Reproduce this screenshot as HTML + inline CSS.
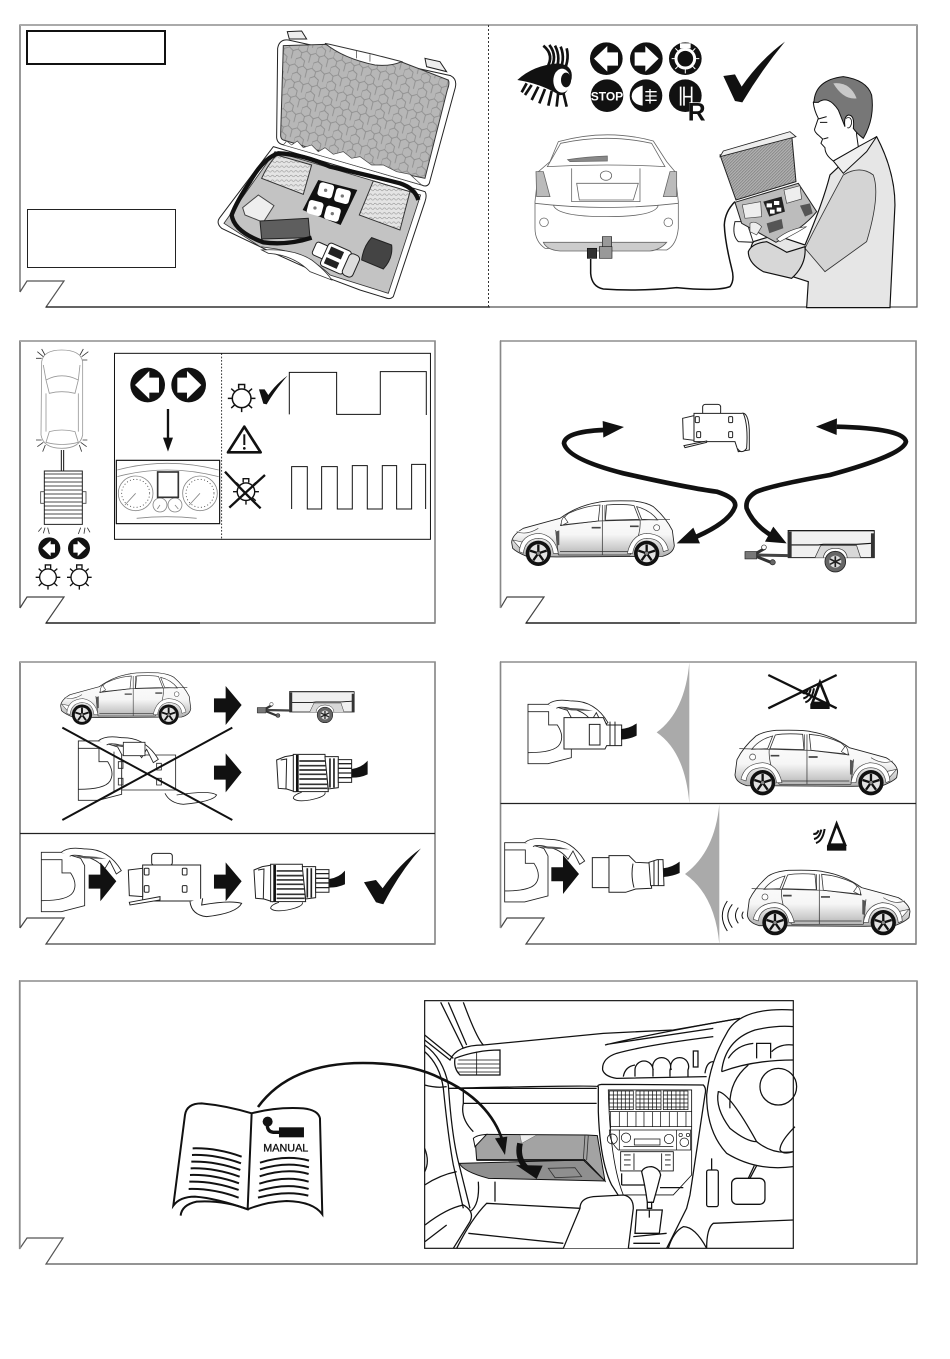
<!DOCTYPE html>
<html><head><meta charset="utf-8"><style>
html,body{margin:0;padding:0;background:#fff;width:950px;height:1359px;overflow:hidden}
svg{display:block;font-family:"Liberation Sans",sans-serif}
</style></head><body>
<svg width="950" height="1359" viewBox="0 0 950 1359" xmlns="http://www.w3.org/2000/svg">
<defs>
<linearGradient id="cg" x1="0" y1="0" x2="0" y2="1"><stop offset="0" stop-color="#fff"/><stop offset=".6" stop-color="#f6f6f6"/><stop offset="1" stop-color="#b0b0b0"/></linearGradient>
<pattern id="foam" width="54" height="46" patternUnits="userSpaceOnUse" patternTransform="rotate(14)">
<rect width="54" height="46" fill="#b7b7b7"/><path d="M0,12 L13,4 L27,12 L27,28 L13,36 L0,28Z M27,28 L40,36 L54,28 M40,36 L40,46 M13,36 L13,46 M13,0 V4 M40,0 V14" fill="none" stroke="#8a8a8a" stroke-width="2.4"/>
</pattern>
<pattern id="foam2" width="9" height="9" patternUnits="userSpaceOnUse"><rect width="9" height="9" fill="#b0b0b0"/><path d="M0,4 L4,0 M4,9 L9,4" stroke="#777" stroke-width="2"/></pattern>
<pattern id="pad" width="14" height="14" patternUnits="userSpaceOnUse"><rect width="14" height="14" fill="#e4e4e4"/><path d="M0,7 Q4,2 7,7 T14,7" fill="none" stroke="#888" stroke-width="1.6"/></pattern>

<g id="wheel"><circle r="38" fill="#111"/><circle r="27" fill="#e2e2e2"/><g stroke="#111" stroke-width="7"><path d="M0,0 V-26"/><path d="M0,0 L25,-8"/><path d="M0,0 L15,21"/><path d="M0,0 L-15,21"/><path d="M0,0 L-25,-8"/></g><circle r="6" fill="#888" stroke="#111" stroke-width="2"/></g>

<g id="car">
<path d="M65,622 Q66,600 100,580 Q165,562 210,550 Q262,512 325,502 Q345,496 430,498 Q470,502 490,515 Q528,548 547,586 L553,632 Q550,655 518,664 L200,666 L110,664 Q80,652 68,640Z" fill="url(#cg)" stroke="#222" stroke-width="2.6"/>
<path d="M212,570 Q220,545 236,535 Q280,514 330,510 L325,558Z M350,510 Q400,506 432,512 L448,553 L346,556Z M440,515 Q480,525 503,555 L455,553Z" fill="#fff" stroke="#333" stroke-width="2.4"/>
<path d="M210,572 L325,558 L540,553 M337,510 V660 M345,510 V556 M450,553 Q455,600 420,660 M197,585 L205,660 M205,660 H420 M210,650 H415" fill="none" stroke="#333" stroke-width="2.2"/>
<path d="M197,590 L208,586 L208,630 L200,632Z" fill="#555"/>
<path d="M305,578 H332 M420,574 H446" stroke="#444" stroke-width="5"/>
<circle cx="500" cy="578" r="9" fill="#fff" stroke="#444" stroke-width="2"/>
<path d="M222,545 Q212,555 214,572 L234,562 Z" fill="#fff" stroke="#333" stroke-width="2"/>
<path d="M68,615 L100,622 L92,642 Z M80,590 Q110,602 145,580" fill="#fff" stroke="#444" stroke-width="2"/>
<path d="M88,650 Q92,598 148,595 Q195,602 205,655 L190,655 Q185,610 145,610 Q105,612 100,655Z" fill="#fff" stroke="#444" stroke-width="2"/>
<path d="M412,655 Q425,598 470,595 Q525,598 535,645 L520,650 Q515,610 470,610 Q435,612 428,655Z" fill="#fff" stroke="#444" stroke-width="2"/>
<use href="#wheel" x="145" y="655"/><use href="#wheel" x="470" y="655"/>
</g>

<g id="trailer">
<path d="M895,587 H1153 V668 H895Z" fill="#f0f0f0" stroke="#222" stroke-width="3"/>
<path d="M893,587 H1153 M895,630 H985 L1000,628 H1100 L1145,625" fill="none" stroke="#111" stroke-width="3.5"/>
<path d="M905,668 H975 L992,632 H1100 L1112,668 H1150" fill="#d8d8d8" stroke="#333" stroke-width="2"/>
<rect x="893" y="590" width="12" height="78" fill="#333"/><rect x="1143" y="595" width="11" height="73" fill="#333"/>
<path d="M895,662 L800,660 H765" fill="none" stroke="#444" stroke-width="9"/>
<path d="M790,660 L825,640 M800,665 L850,685" stroke="#333" stroke-width="9" fill="none"/>
<path d="M765,650 H800 V672 H765Z" fill="#777" stroke="#222" stroke-width="2"/>
<circle cx="822" cy="637" r="7" fill="#fff" stroke="#222" stroke-width="2"/><circle cx="848" cy="682" r="8" fill="#666" stroke="#222" stroke-width="2"/>
<path d="M1000,668 Q1005,640 1036,640 Q1068,640 1072,668" fill="#fff" stroke="#333" stroke-width="2"/>
<circle cx="1036" cy="680" r="31" fill="#666" stroke="#222" stroke-width="2.5"/><circle cx="1036" cy="680" r="18" fill="#ddd"/><path d="M1036,664 V696 M1020,672 L1052,688 M1020,688 L1052,672" stroke="#222" stroke-width="5"/>
</g>

<g id="bulb" fill="none" stroke="#111" stroke-width="4">
<circle r="25"/><path d="M-8,-26 V-37 H8 V-26 M0,25 V37 M25,0 H37 M-25,0 H-37 M19,-18 L28,-26 M-19,-18 L-28,-26 M19,18 L28,26 M-19,18 L-28,26"/>
</g>

<path id="bigarrow" d="M0,37 H35 V0 L83,57 L35,117 V79 H0Z" fill="#111"/>

<g id="plug13">
<path d="M800,315 L825,305 L855,300 V410 L830,402 L805,400Z" fill="#fff" stroke="#222" stroke-width="3"/>
<path d="M812,315 L830,312 L828,402" fill="none" stroke="#222" stroke-width="3"/>
<path d="M850,298 H945 L955,410 H850Z" fill="#fff" stroke="#222" stroke-width="3"/>
<path d="M862,300 V410" stroke="#111" stroke-width="8"/>
<path d="M868,318 H945 M868,332 H948 M868,345 H948 M868,358 H948 M868,372 H950 M868,388 H952 M868,400 H952" stroke="#333" stroke-width="5"/>
<path d="M945,305 H985 V398 L955,402Z" fill="#fff" stroke="#222" stroke-width="3"/>
<path d="M960,310 V398 M972,310 V398" stroke="#222" stroke-width="5"/>
<path d="M985,314 H1025 V382 H985Z" fill="#fff" stroke="#222" stroke-width="3"/>
<path d="M985,326 H1025 M985,340 H1025 M985,354 H1025 M985,368 H1025" stroke="#222" stroke-width="4"/>
<path d="M1026,342 Q1055,338 1073,317 V358 Q1052,368 1026,368Z" fill="#111"/>
<path d="M875,412 Q850,420 850,430 Q860,442 900,435 Q950,425 945,412" fill="#fff" stroke="#222" stroke-width="2.5"/>
</g>

<g id="socketL">
<path d="M0,0 H60 L118,18 L130,40 V160 L60,178 H0Z" fill="#fff" stroke="#222" stroke-width="2.6"/>
<path d="M0,22 H45 H62 V62 L88,62 Q110,95 95,120 Q80,145 0,145" fill="none" stroke="#222" stroke-width="2.6"/>
<path d="M60,0 Q80,-18 130,-10 Q200,-12 240,55 L225,65 L205,25 L190,50 Q170,20 125,12 Q95,5 85,12" fill="#fff" stroke="#222" stroke-width="2.6"/>
<path d="M100,12 Q150,8 195,20 L130,18Z" fill="#555"/>
</g>

<g id="plugSmall">
<path d="M0,6 H50 V96 H0Z" fill="#fff" stroke="#222" stroke-width="3"/>
<path d="M50,0 H110 L130,20 L172,22 L178,98 L130,100 L100,110 H50Z" fill="#fff" stroke="#222" stroke-width="3"/>
<path d="M122,24 Q115,60 125,96 M170,20 L195,12 H212 L215,90 H175Z M185,15 V90 M198,12 V90" fill="#fff" stroke="#222" stroke-width="3"/>
<path d="M213,38 Q240,35 262,18 V52 Q240,62 213,64Z" fill="#111"/>
</g>

<g id="tri"><path d="M43,4 L68,66 H20Z" fill="none" stroke="#111" stroke-width="8"/><rect x="14" y="68" width="58" height="16" fill="#111"/></g>
<g id="waves" fill="none" stroke="#111" stroke-width="6"><path d="M0,24 Q10,28 16,14 M2,40 Q18,38 24,12 M8,52 Q28,46 34,10"/></g>
</defs>

<!-- frames -->
<g fill="none" stroke-linejoin="miter">
<path d="M20,292 V25 H917 V307 H46 L64,281 H27 L20,292" stroke="#555" stroke-width="1.2"/>
<path d="M20,25 H917" stroke="#aaa" stroke-width="2"/>
<path d="M46,307 H490" stroke="#222" stroke-width="1.2"/>
<path d="M488.5,25 V307" stroke="#333" stroke-width="1" stroke-dasharray="2 2"/>

<path d="M20,608 V341 H435 V623 H46 L64,597 H27 L20,608" stroke="#444" stroke-width="1.2"/><path d="M20,341 H435" stroke="#aaa" stroke-width="2"/><path d="M435,341 V623" stroke="#888" stroke-width="1.5"/>
<path d="M46,623 H200" stroke="#111" stroke-width="1.2"/>
<path d="M500.5,608 V341 H916 V623 H526 L544,597 H507 L500.5,608" stroke="#444" stroke-width="1.2"/><path d="M500.5,341 H916" stroke="#aaa" stroke-width="2"/><path d="M916,341 V623 M500.5,341 V608" stroke="#888" stroke-width="1.5"/>
<path d="M526,623 H680" stroke="#111" stroke-width="1.2"/>

<path d="M20,928 V662 H435 V944 H46 L64,918 H27 L20,928" stroke="#444" stroke-width="1.2"/><path d="M20,662 H435" stroke="#aaa" stroke-width="2"/><path d="M435,662 V944" stroke="#888" stroke-width="1.5"/>
<path d="M20,833.5 H435" stroke="#222" stroke-width="1.2"/>
<path d="M500.5,928 V662 H916 V944 H526 L544,918 H507 L500.5,928" stroke="#444" stroke-width="1.2"/><path d="M500.5,662 H916" stroke="#aaa" stroke-width="2"/><path d="M916,662 V944 M500.5,662 V928" stroke="#888" stroke-width="1.5"/>
<path d="M500.5,803.5 H916" stroke="#222" stroke-width="1.2"/>

<path d="M19.5,1249 V981 H917 V1264 H46 L63,1238 H27 L19.5,1249" stroke="#555" stroke-width="1.2"/><path d="M20,981 H917 M20,981 V1249" stroke="#999" stroke-width="1.5"/>
<rect x="27" y="31" width="138" height="33" stroke="#111" stroke-width="2"/>
<rect x="27.5" y="209.5" width="148" height="58" stroke="#222" stroke-width="1"/>
</g>

<!-- P1 case -->
<g transform="translate(10,15) scale(.3333)">
<path d="M803,100 Q808,72 835,75 L1322,182 Q1342,192 1336,218 L1258,505 Q1250,518 1235,510 L825,390 Q802,388 800,368Z" fill="#fff" stroke="#222" stroke-width="3"/>
<path d="M820,92 L945,88 L1172,140 L1315,195 Q1320,205 1312,225 L1245,490 L1100,460 L820,375 Q812,372 812,360Z" fill="url(#foam)" stroke="#333" stroke-width="3"/>
<path d="M945,85 Q1000,130 1095,150 Q1140,155 1175,140 L1090,118 L960,88Z" fill="#fff" stroke="#333" stroke-width="3"/>
<path d="M1040,108 V130 M1080,118 V140" stroke="#333" stroke-width="2"/>
<path d="M832,50 L875,48 L890,72 L838,72Z M1245,130 L1290,140 L1310,170 L1250,155Z" fill="#eee" stroke="#222" stroke-width="3"/>
<path d="M830,378 L845,390 L862,378 L880,398 L905,390 L925,410 L945,398 L970,418 L1000,410 L1025,430 L1050,425 L1085,450 L1120,450 L1160,470 L1200,478 L1235,510 L820,390Z" fill="#fff" stroke="#444" stroke-width="2"/>
<path d="M790,395 L1245,530 Q1252,540 1245,560 L1150,845 Q1140,855 1125,848 L1050,825 L970,795 L760,700 L635,640 Q618,625 628,610 Z" fill="#fff" stroke="#222" stroke-width="3"/>
<path d="M795,410 L1232,540 L1135,835 L960,780 Q900,720 800,702 L750,695 L642,625Z" fill="#c3c3c3" stroke="#333" stroke-width="2.5"/>
<path d="M755,705 Q850,700 905,735 Q950,770 965,795 L900,770 Q850,720 775,715Z" fill="#fff" stroke="#333" stroke-width="2.5"/>
<path d="M800,420 L905,450 L880,538 L755,490 Q770,455 800,420Z" fill="url(#pad)" stroke="#333" stroke-width="3"/>
<path d="M1090,498 L1200,530 L1170,645 L1048,600Z" fill="url(#pad)" stroke="#333" stroke-width="3"/>
<path d="M925,495 L1042,525 L992,630 L878,585Z" fill="#111"/>
<g fill="#fff"><rect x="925" y="505" width="45" height="42" rx="9" transform="rotate(15 947 526)"/><rect x="975" y="522" width="45" height="42" rx="9" transform="rotate(15 997 543)"/><rect x="893" y="558" width="45" height="42" rx="9" transform="rotate(15 915 579)"/><rect x="945" y="575" width="45" height="42" rx="9" transform="rotate(15 967 596)"/></g>
<circle cx="947" cy="526" r="5" fill="#777"/><circle cx="997" cy="543" r="5" fill="#777"/><circle cx="915" cy="579" r="5" fill="#777"/><circle cx="967" cy="596" r="5" fill="#777"/>
<path d="M698,578 L745,540 L792,572 L760,622 L705,600Z" fill="#eee" stroke="#444" stroke-width="3"/>
<path d="M750,618 L895,610 L900,668 L755,672Z" fill="#5e5e5e" stroke="#222" stroke-width="3"/>
<path d="M1225,555 Q1215,520 1170,505 Q1080,482 960,455 Q880,418 805,415 Q760,430 720,500 Q680,560 665,600 Q672,650 760,682 Q830,692 905,668" fill="none" stroke="#111" stroke-width="13"/>
<g transform="rotate(24 970 730)"><rect x="905" y="703" width="40" height="42" rx="8" fill="#fff" stroke="#222" stroke-width="3"/><rect x="940" y="690" width="75" height="75" rx="10" fill="#fff" stroke="#222" stroke-width="3"/><rect x="950" y="700" width="42" height="24" fill="#222"/><rect x="950" y="735" width="42" height="20" fill="#222"/><rect x="1010" y="693" width="34" height="70" rx="12" fill="#ddd" stroke="#222" stroke-width="3"/></g>
<path d="M1085,668 L1145,690 Q1150,730 1120,762 L1055,735 Q1060,695 1085,668Z" fill="#444" stroke="#222" stroke-width="3"/>
</g>

<!-- P2 -->
<g transform="translate(490,15) scale(.3333)">
<g fill="none" stroke="#111" stroke-width="8">
<path d="M160,92 Q195,120 170,160 M178,90 Q205,125 180,165 M195,92 Q215,130 195,170 M212,95 Q228,135 205,175 M230,100 Q240,140 215,180"/>
<path d="M110,205 L95,232 M125,210 L105,240 M145,215 L125,255 M165,222 L148,265 M185,228 L175,272 M205,230 L200,275 M218,225 L230,275"/>
</g>
<path d="M82,195 Q130,150 205,145 Q250,150 245,190 Q232,245 208,240 Q150,205 82,195Z" fill="#111"/>
<ellipse cx="216" cy="197" rx="26" ry="36" fill="#fff"/><ellipse cx="228" cy="195" rx="15" ry="22" fill="#111"/>
<g fill="#111"><circle cx="349" cy="131" r="49"/><circle cx="469" cy="131" r="49"/><circle cx="586" cy="131" r="49"/><circle cx="351" cy="242" r="49"/><circle cx="468" cy="242" r="49"/><circle cx="586" cy="242" r="49"/></g>
<path d="M312,131 L352,93 V112 H384 V152 H352 V170Z" fill="#fff"/>
<path d="M506,131 L466,93 V112 H434 V152 H466 V170Z" fill="#fff"/>
<circle cx="586" cy="131" r="28" fill="none" stroke="#fff" stroke-width="9"/>
<path d="M586,88 V103 M586,160 V175 M545,131 H558 M614,131 H628 M556,100 L564,108 M616,100 L608,108 M556,162 L564,154 M616,162 L608,154" stroke="#fff" stroke-width="3"/>
<path d="M570,85 H602 V100 H570Z" fill="#fff"/>
<text x="351" y="256" text-anchor="middle" font-size="36" font-weight="700" fill="#fff" font-family="Liberation Sans,sans-serif">STOP</text>
<path d="M458,212 Q425,220 425,245 Q428,268 458,272Z" fill="#fff"/>
<path d="M480,222 V266 M466,230 H500 M466,243 H500 M466,256 H500" stroke="#fff" stroke-width="4"/>
<path d="M572,215 V272 M582,215 V272 M582,245 H605 V215 M605,215 V272" fill="none" stroke="#fff" stroke-width="5"/>
<rect x="598" y="262" width="44" height="56" fill="#fff"/>
<text x="620" y="316" text-anchor="middle" font-size="74" font-weight="700" fill="#111">R</text>
<path d="M700,183 L735,178 L755,215 Q810,135 885,80 Q815,165 757,262 L735,258Z" fill="#111"/>

<!-- rear car -->
<g fill="#fff" stroke="#666" stroke-width="2.4">
<path d="M165,700 Q135,680 135,640 V560 L145,470 L180,440 L205,380 Q350,340 490,378 L530,440 L555,470 L565,560 V640 Q560,690 530,705Z"/>
<path d="M172,455 L212,385 Q350,355 485,385 L525,455 Q350,445 172,455Z"/>
<path d="M245,460 V560 H450 V460 M260,505 H445 L430,555 H268Z M135,565 Q350,590 565,565 M190,570 Q200,605 350,605 Q500,605 505,570"/>
<path d="M233,434 Q290,425 352,423 V438 L240,440Z" fill="#888"/>
<path d="M138,470 L160,470 L180,545 L140,545Z M560,470 L540,470 L520,545 L560,545Z" fill="#bbb"/>
<circle cx="162" cy="622" r="13"/><circle cx="535" cy="622" r="13"/>
<ellipse cx="348" cy="482" rx="17" ry="14"/>
<path d="M160,682 H530 Q510,705 480,708 H210 Q170,705 160,682Z" fill="#ccc"/>
</g>
<rect x="337" y="665" width="28" height="32" fill="#999" stroke="#222" stroke-width="2"/>
<rect x="328" y="695" width="38" height="35" fill="#999" stroke="#222" stroke-width="2"/>
<rect x="292" y="700" width="28" height="30" fill="#333" stroke="#111" stroke-width="2"/>
<path d="M302,732 V775 Q305,815 340,822 Q440,830 560,818 Q680,830 720,815 Q735,795 725,760 Q705,680 703,630 Q705,590 735,560" fill="none" stroke="#111" stroke-width="4.5"/>

<!-- man -->
<path d="M950,878 L955,800 L800,750 Q770,715 790,680 L855,660 L945,690 Q1000,560 1020,480 L1105,400 L1160,365 Q1215,470 1215,570 L1200,878Z" fill="#e6e6e6" stroke="#111" stroke-width="3.5"/>
<path d="M1060,480 Q1110,450 1150,480 Q1172,540 1130,680 L1005,770 L945,700 Q990,610 1060,480Z" fill="#d4d4d4" stroke="#333" stroke-width="2.5"/>
<path d="M1030,438 L1105,395 L1160,365 L1130,410 L1060,475Z" fill="#efefef" stroke="#111" stroke-width="3"/>
<path d="M970,262 Q990,230 1060,260 Q1100,300 1100,360 L1105,395 L1030,438 Q1005,420 1005,398 L993,385 L998,372 L987,362 Q972,350 974,342 L985,310 Q972,285 970,262Z" fill="#fff" stroke="#111" stroke-width="3"/>
<path d="M972,262 Q975,195 1060,185 Q1130,195 1145,240 Q1155,310 1120,370 Q1100,355 1090,340 Q1095,300 1075,300 Q1060,305 1065,335 L1045,285 Q1015,240 985,262Z" fill="#777" stroke="#111" stroke-width="3"/>
<path d="M1030,205 Q1080,200 1100,250 Q1060,255 1030,205Z" fill="#c9c9c9"/>
<path d="M985,312 L1010,305 M990,322 L1012,322 M1000,372 L1015,368" stroke="#111" stroke-width="3" fill="none"/>
<path d="M1068,310 Q1085,302 1085,325 Q1080,342 1072,338" fill="#fff" stroke="#111" stroke-width="2.5"/>
<path d="M735,620 Q725,660 745,680 L790,682 L770,620Z" fill="#fff" stroke="#222" stroke-width="3"/>
<path d="M690,420 L905,358 L918,500 L738,555Z" fill="url(#foam2)" stroke="#222" stroke-width="3"/>
<path d="M700,408 L900,350 L918,365 L690,425Z" fill="#eee" stroke="#222" stroke-width="2.5"/>
<path d="M735,562 L925,505 L980,590 Q940,640 858,682 L755,625Z" fill="#bcbcbc" stroke="#222" stroke-width="3"/>
<path d="M757,570 L812,560 L815,605 L765,610Z M882,525 L930,512 L935,552 L890,565Z M780,625 Q795,615 815,635 L800,660 L780,650Z" fill="#eee" stroke="#444" stroke-width="2"/>
<path d="M820,560 L875,545 L885,590 L838,605Z" fill="#222"/>
<path d="M830,565 h16 v12 h-16z M852,558 h16 v12 h-16z M840,584 h14 v12 h-14z M860,578 h14 v12 h-14z" fill="#fff"/>
<path d="M830,625 L875,612 L880,640 L838,655Z" fill="#555"/>
<path d="M930,572 L960,565 L968,595 L945,605Z" fill="#555"/>
<path d="M860,672 Q900,640 950,635 L925,650 L870,680Z" fill="#fff" stroke="#333" stroke-width="2"/>
<path d="M775,710 Q785,685 830,680 Q870,700 890,712 L945,695 Q950,750 905,790 L820,770 Q775,745 775,710Z" fill="#d7d7d7" stroke="#111" stroke-width="3.5"/>
</g>

<!-- P3 -->
<g transform="translate(10,335) scale(.3333)">
<g fill="#fff" stroke="#999" stroke-width="2.5">
<path d="M95,80 Q100,45 155,45 Q212,45 218,80 V300 Q210,340 155,340 Q100,340 93,300Z"/>
<path d="M108,135 Q155,110 205,135 L195,175 Q155,165 118,175Z M118,290 Q155,280 195,290 L205,322 Q155,335 108,322Z M108,175 V290 M205,175 V290 M100,90 L108,135 M210,90 L205,135"/>
</g>
<path d="M82,50 L100,65 M95,42 L105,60 M235,50 L215,65 M220,42 L210,60 M78,70 H95 M232,75 H218 M78,315 H95 M82,335 L100,322 M98,350 L106,330 M232,315 H218 M230,335 L212,322 M215,350 L208,330" stroke="#333" stroke-width="2.5"/>
<path d="M154,345 V408 M161,345 V408" stroke="#111" stroke-width="3"/>
<path d="M103,408 H217 V568 H103Z" fill="#fff" stroke="#222" stroke-width="3"/>
<path d="M103,417 H217 M103,429 H217 M103,441 H217 M103,453 H217 M103,465 H217 M103,477 H217 M103,489 H217 M103,501 H217 M103,513 H217 M103,525 H217 M103,537 H217 M103,549 H217" stroke="#111" stroke-width="2.4"/>
<path d="M103,470 H92 V505 H103 M217,470 H228 V505 H217" fill="none" stroke="#444" stroke-width="2.5"/>
<path d="M85,590 L95,578 M100,595 L105,578 M118,597 L113,578 M205,597 L212,578 M222,596 L225,578 M240,592 L232,578" stroke="#333" stroke-width="2.5"/>
<g fill="#111"><circle cx="118" cy="640" r="33"/><circle cx="207" cy="640" r="33"/><circle cx="413" cy="150" r="52"/><circle cx="536" cy="150" r="52"/></g>
<path d="M97,640 L122,617 V628 H135 V653 H122 V664Z" fill="#fff"/>
<path d="M228,640 L203,617 V628 H190 V653 H203 V664Z" fill="#fff"/>
<path d="M375,150 L418,108 V128 H447 V173 H418 V192Z" fill="#fff"/>
<path d="M574,150 L531,108 V128 H502 V173 H531 V192Z" fill="#fff"/>
<use href="#bulb" x="114" y="727"/><use href="#bulb" x="208" y="727"/>
<rect x="313.500" y="55" width="948" height="558" fill="none" stroke="#111" stroke-width="3"/>
<path d="M635,55 V613" stroke="#111" stroke-width="2.5" stroke-dasharray="5 5"/>
<path d="M474,222 V310" stroke="#111" stroke-width="7"/><path d="M459,308 H489 L474,350Z" fill="#111"/>
<rect x="319" y="376" width="310" height="190" fill="#fff" stroke="#111" stroke-width="3.5"/>
<g fill="none" stroke="#888" stroke-width="2.5">
<path d="M322,405 Q470,365 626,405 M322,425 Q470,385 626,425 M380,550 Q470,540 560,550"/>
<circle cx="377" cy="475" r="52"/><circle cx="570" cy="475" r="52"/><circle cx="450" cy="510" r="21"/><circle cx="495" cy="510" r="21"/>
<circle cx="377" cy="475" r="42" stroke-dasharray="3 7" stroke="#444"/><circle cx="570" cy="475" r="42" stroke-dasharray="3 7" stroke="#444"/>
<path d="M377,475 L345,510 M570,475 L538,510 M450,510 L442,522 M495,510 L505,522"/>
</g>
<rect x="443" y="411" width="62" height="76" fill="#fff" stroke="#333" stroke-width="5"/>
<use href="#bulb" transform="translate(695,190) scale(1.12)"/>
<path d="M747,163 L764,163 L775,180 Q800,145 833,122 Q795,165 770,208 L760,206Z" fill="#111"/>
<path d="M838,238 V112 H980 V238 H1111 V110 H1249 V240 M845,522 V395 H892 V522 H935 V395 H982 V522 H1027 V392 H1072 V522 H1117 V392 H1160 V522 H1205 V388 H1247 V522" fill="none" stroke="#111" stroke-width="3"/>
<path d="M703,275 L752,352 H654Z" fill="#fff" stroke="#111" stroke-width="8" stroke-linejoin="round"/>
<path d="M703,298 V330" stroke="#111" stroke-width="6"/><circle cx="703" cy="340" r="4" fill="#111"/>
<use href="#bulb" transform="translate(708,470) scale(1.05)"/>
<path d="M645,410 Q700,470 752,520 M658,518 Q710,470 765,420" fill="none" stroke="#111" stroke-width="7"/>
</g>

<!-- P4 -->
<g transform="translate(490,335) scale(.3333)">
<use href="#car"/>
<use href="#trailer"/>
<g fill="#fff" stroke="#222" stroke-width="3">
<rect x="638" y="208" width="54" height="32" rx="8"/>
<path d="M612,235 H755 Q775,230 778,285 V345 L745,350 L735,320 H612 Z"/>
<path d="M578,250 L612,242 V316 L580,312Z"/>
<rect x="616" y="245" width="12" height="18" rx="3"/><rect x="716" y="245" width="12" height="18" rx="3"/><rect x="620" y="290" width="12" height="18" rx="3"/><rect x="716" y="290" width="12" height="18" rx="3"/>
<path d="M582,332 L650,318 V322 L585,338Z M760,235 Q775,270 770,340 Q755,360 742,340"/>
</g>
<path d="M340,285 Q225,290 222,325 Q232,372 400,415 Q600,460 680,470 Q742,490 735,515 Q720,560 620,605" fill="none" stroke="#111" stroke-width="14"/>
<path d="M338,258 L402,276 L340,308Z M560,625 L610,578 L630,625Z" fill="#111"/>
<path d="M1040,275 Q1240,280 1248,320 Q1240,360 1020,420 Q850,450 800,470 Q765,490 770,520 Q790,570 850,605" fill="none" stroke="#111" stroke-width="14"/>
<path d="M978,275 L1041,250 L1040,300Z M890,625 L850,575 L825,620Z" fill="#111"/>
</g>

<!-- P5 -->
<g transform="translate(10,655) scale(.3333)">
<use href="#car" transform="translate(100,-345) scale(.8)"/>
<use href="#trailer" transform="translate(168,-330) scale(.75)"/>
<use href="#bigarrow" x="612" y="93"/><use href="#bigarrow" x="612" y="295"/>
<use href="#plug13"/>
<use href="#plug13" x="-68" y="330"/>
<path d="M335,300 H497 V405 H335Z" fill="#fff" stroke="#222" stroke-width="2.5"/>
<use href="#socketL" transform="translate(205,258)"/>
<path d="M312,290 V410 M325,320 h14 v20 h-14z M325,370 h14 v20 h-14z M440,325 h14 v20 h-14z M440,370 h14 v20 h-14z" fill="none" stroke="#222" stroke-width="2.5"/>
<path d="M340,262 h65 v40 h-65z" fill="#fff" stroke="#222" stroke-width="2.5"/>
<path d="M465,415 Q480,445 520,448 Q610,440 620,420 Q600,405 500,420" fill="#fff" stroke="#222" stroke-width="2.5"/>
<path d="M157,218 L667,495 M157,495 L667,218" stroke="#111" stroke-width="6"/>
<use href="#socketL" transform="translate(94,592)"/>
<use href="#bigarrow" x="236" y="622"/>
<use href="#bigarrow" x="612" y="622"/>
<g fill="#fff" stroke="#222" stroke-width="3">
<rect x="425" y="595" width="62" height="36" rx="8"/>
<path d="M398,630 H572 V740 L545,738 H398Z"/><path d="M355,645 L398,640 V725 L358,722Z"/>
<rect x="403" y="640" width="14" height="20" rx="3"/><rect x="517" y="640" width="14" height="20" rx="3"/><rect x="403" y="692" width="14" height="20" rx="3"/><rect x="517" y="692" width="14" height="20" rx="3"/>
<path d="M358,742 L450,725 V735 L360,750Z M540,740 Q545,780 590,785 Q680,775 695,745 Q660,735 575,750 L578,730"/>
</g>
<path d="M1062,682 L1098,675 L1118,700 Q1170,625 1233,580 Q1170,650 1120,748 L1098,742Z" fill="#111"/>
</g>

<!-- P6 -->
<g transform="translate(490,655) scale(.3333)">
<path d="M598,22 Q585,170 500,232 Q585,290 598,445Z M688,447 Q675,590 585,657 Q675,720 688,868Z" fill="#aaa"/>
<use href="#socketL" transform="translate(114,148)"/>
<path d="M222,188 H340 L350,210 H395 V272 H350 L345,282 H222Z" fill="#fff" stroke="#222" stroke-width="3"/>
<path d="M298,208 H330 V270 H298Z M360,200 V272 M375,200 V272" fill="#fff" stroke="#222" stroke-width="3"/>
<path d="M393,222 Q420,220 440,205 V242 Q420,252 393,254Z" fill="#111"/>
<use href="#socketL" transform="translate(44,563)"/>
<use href="#bigarrow" x="184" y="600"/>
<use href="#plugSmall" transform="translate(307,602)"/>
<path d="M835,60 L1040,160 M835,160 L1040,60" stroke="#111" stroke-width="7"/>
<use href="#tri" transform="translate(947,78)"/><use href="#waves" transform="translate(938,90)"/>
<use href="#tri" transform="translate(997,503)"/><use href="#waves" transform="translate(970,512)"/>
<use href="#car" transform="translate(1288,-272) scale(-1,1)"/>
<use href="#car" transform="translate(1325,148) scale(-1,1)"/>
<path d="M760,770 Q752,782 760,792 M745,758 Q728,782 745,805 M727,748 Q700,782 727,818 M712,738 Q682,782 712,828" fill="none" stroke="#111" stroke-width="3"/>
</g>

<!-- P7 book -->
<g transform="translate(10,975) scale(.3333)">
<path d="M490,692 L525,420 Q530,385 575,385 Q650,392 725,415 L713,703 Q620,670 555,665 Q510,665 490,692Z" fill="#fff" stroke="#111" stroke-width="6"/>
<path d="M512,722 Q515,690 560,680 Q640,675 713,703 M725,415 Q800,395 880,400 Q925,405 930,430 L937,718 Q910,680 830,678 Q770,680 713,703" fill="none" stroke="#111" stroke-width="6"/>
<g fill="none" stroke="#111" stroke-width="6"><path d="M548,520 Q620,518 695,545 M546,540 Q618,538 693,565 M544,560 Q616,558 691,585 M542,580 Q614,578 689,605 M540,600 Q612,598 687,625 M538,620 Q610,618 686,645 M536,642 Q610,640 686,668"/>
<path d="M750,563 Q830,538 897,557 M750,583 Q830,558 897,577 M749,604 Q830,578 896,597 M748,626 Q830,600 896,620 M746,648 Q830,622 896,642 M744,668 Q830,645 895,662"/></g>
<circle cx="773" cy="440" r="15" fill="#111"/><path d="M772,450 Q772,470 790,472 H810" fill="none" stroke="#111" stroke-width="10"/><rect x="807" y="457" width="75" height="30" fill="#111"/>
<text x="760" y="530" font-size="33" fill="#111" stroke="#111" stroke-width="1" textLength="135" lengthAdjust="spacingAndGlyphs" font-family="Liberation Sans,sans-serif">MANUAL</text>
</g>

<!-- dashboard -->
<g transform="translate(420,995) scale(.3333)" fill="none" stroke="#111" stroke-width="3.8">
<rect x="14" y="17" width="1106" height="743" fill="#fff" stroke-width="3.500"/>
<path d="M62,22 L130,160 M85,22 L140,150 M130,22 Q170,130 190,150 L550,115 L760,105 L960,70"/>
<path d="M14,120 L100,190 M14,135 L90,195 Q110,150 190,150"/>
<path d="M14,150 Q70,190 85,270 Q95,420 115,500 L150,640 M14,170 Q60,210 70,280 Q85,430 100,510 L130,640"/>
<path d="M105,190 Q170,165 240,165 V240 L120,240 Q100,220 105,190Z"/>
<path d="M115,195 H238 M112,207 H238 M110,219 H238 M115,231 H238 M170,170 V240" stroke-width="2.4"/>
<path d="M14,270 Q50,280 80,275 M85,280 H530 M130,325 H530 M130,325 Q120,370 160,410 M130,280 V325 M85,280 Q530,270 535,275"/>
<path d="M14,570 Q60,540 110,530 M14,460 Q30,500 14,530"/>
<path d="M555,150 Q700,115 960,70 M560,148 L880,100 M590,175 Q680,150 880,125 M590,175 Q545,190 548,225 Q555,245 590,250 L860,245"/>
<path d="M610,245 Q615,215 645,210 M645,225 a27,27 0 1,1 54,0 M645,225 v20 M699,225 v20 M700,225 a27,27 0 1,1 50,0 v20 M754,225 a27,27 0 1,1 50,0 v20 M855,235 q5,-35 25,-35"/>
<rect x="820" y="168" width="14" height="48"/>
<path d="M535,275 Q530,270 545,268 L850,270 Q860,280 855,300 L810,600 L800,640 L740,760 M535,275 L535,350 Q540,500 575,570 L620,640"/>
<path d="M565,285 H815 V540 L760,600 H610 Q570,500 565,285Z" stroke-width="2.6"/>
<g stroke-width="2.200"><rect x="568" y="288" width="72" height="56"/><rect x="648" y="288" width="75" height="56"/><rect x="730" y="288" width="74" height="56"/>
<path d="M568,300 H640 M568,312 H640 M568,324 H640 M568,336 H640 M648,300 H723 M648,312 H723 M648,324 H723 M648,336 H723 M730,300 H804 M730,312 H804 M730,324 H804 M730,336 H804 M580,288 V344 M592,288 V344 M604,288 V344 M616,288 V344 M628,288 V344 M660,288 V344 M672,288 V344 M685,288 V344 M698,288 V344 M710,288 V344 M742,288 V344 M755,288 V344 M768,288 V344 M780,288 V344 M792,288 V344"/>
<path d="M568,350 H815 M570,395 H815 M572,400 V350 M598,350 V395 M622,350 V395 M648,350 V395 M672,350 V395 M698,350 V395 M722,350 V395 M748,350 V395 M772,350 V395 M798,350 V395"/>
<path d="M568,405 H812 V465 H595Q568,440 568,405Z M598,405 V465 M770,405 V465"/>
<circle cx="577" cy="432" r="15"/><circle cx="618" cy="428" r="14"/><circle cx="747" cy="432" r="14"/><circle cx="793" cy="442" r="13"/><circle cx="782" cy="420" r="5"/><circle cx="804" cy="420" r="5"/>
<path d="M643,432 H720 V450 H643Z M610,455 H760"/></g>
<path d="M602,470 H760 V528 H602Z M642,475 V525 M725,475 V525 M612,480 H632 M612,495 H632 M612,510 H632 M735,480 H752 M735,495 H752 M735,510 H752" stroke-width="2.6"/>
<path d="M605,535 V570 M605,570 H680 M720,578 H790"/>
<path d="M665,530 Q672,515 695,515 Q718,520 722,540 Q712,580 700,622 H682 Q675,570 665,530Z" fill="#fff"/>
<path d="M682,622 V640 H695 V620 M650,645 H727 L718,715 H645Z M688,645 V668" />
<path d="M1120,45 Q960,35 920,115 Q870,200 860,300 Q860,410 920,475 Q1010,530 1120,515"/>
<path d="M905,230 Q915,135 1005,105 Q1070,90 1120,95 M905,230 Q1000,195 1120,195"/>
<path d="M895,290 Q930,295 1010,440 Q980,440 930,400 Q885,340 895,290Z" fill="#fff"/>
<path d="M925,190 Q950,150 1000,145 M1010,190 V145 H1052 V190 M1055,170 Q1080,145 1120,150" />
<circle cx="1075" cy="275" r="55"/><path d="M985,210 Q925,260 930,340 M1010,440 Q1060,480 1120,470 M1125,395 Q1080,440 1080,465 Q1090,480 1120,470"/>
<rect x="860" y="525" width="35" height="110" rx="6"/><rect x="935" y="550" width="100" height="78" rx="16"/><path d="M985,550 L1003,512 M990,550 L1010,512 M875,490 V525"/>
<path d="M15,690 Q80,640 130,630 Q165,650 150,680 L100,760 M80,690 L15,740 M110,760 Q155,670 200,625 L480,640 M145,715 L430,745"/>
<path d="M430,760 L480,640 Q480,610 520,605 L610,600 Q640,605 640,640 L625,760" fill="#fff"/>
<path d="M745,760 Q760,710 790,695 Q825,695 860,760 M860,760 Q860,700 880,685 L1120,675 M640,725 L740,715 M640,745 L720,745"/>
<path d="M175,560 Q180,630 150,650 M225,560 V620"/>
</g>
<g transform="translate(420,995) scale(.3333)">
<path d="M165,428 L200,418 L500,420 L532,422 L555,558 L495,495 L170,495Z" fill="#a3a3a3" stroke="#111" stroke-width="3"/>
<path d="M160,430 Q170,420 200,418 L165,455Z" fill="#fff" stroke="#111" stroke-width="3"/>
<path d="M118,505 L490,495 L555,558 L205,550 Q130,530 118,505Z" fill="#8f8f8f" stroke="#111" stroke-width="3"/>
<path d="M170,495 H495" stroke="#111" stroke-width="5"/>
<path d="M385,520 L465,518 L485,545 L405,548Z M495,420 L490,495 M505,420 L500,495" fill="none" stroke="#333" stroke-width="2.5"/>
<path d="M225,430 L262,425 L255,480 Z" fill="#111"/>
<path d="M300,445 Q290,490 320,520" fill="none" stroke="#111" stroke-width="17"/>
<path d="M300,420 H350 L305,445Z" fill="#eee" stroke="#333" stroke-width="1"/>
<path d="M368,512 L350,552 L288,510Z" fill="#111"/>
</g>
<path d="M258,1107 Q290,1063 363,1063 Q410,1063 440,1078 Q490,1100 503,1142" fill="none" stroke="#111" stroke-width="2.600"/>
</svg>
</body></html>
